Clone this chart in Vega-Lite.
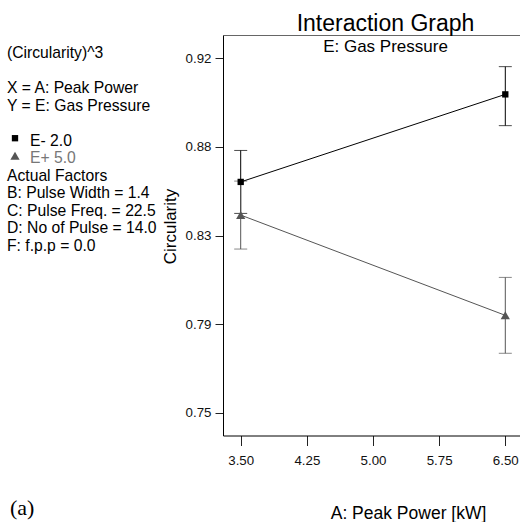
{
  "$schema": "https://vega.github.io/schema/vega-lite/v6.json",
  "autosize": {"type": "none"},
  "padding": {"left": 0, "top": 35, "right": 520, "bottom": 487},
  "bounds": "flush",
  "spacing": 193,
  "config": {
    "font": "Liberation Sans",
    "view": {"stroke": null},
    "axis": {"grid": false, "domainColor": "#000", "tickColor": "#222", "labelColor": "#111", "titleColor": "#000", "titleFontWeight": "normal"}
  },
  "hconcat": [
    {
      "width": 30,
      "height": 400.5,
      "title": {"text": "(a)", "orient": "bottom", "anchor": "start", "font": "Liberation Serif", "fontSize": 22, "fontWeight": "normal", "color": "#000", "offset": 62, "dx": 10},
      "data": {
        "values": [
          {"line": 0, "kind": "note", "text": "(Circularity)^3"},
          {"line": 2, "kind": "note", "text": "X = A: Peak Power"},
          {"line": 3, "kind": "note", "text": "Y = E: Gas Pressure"},
          {"line": 5, "kind": "series", "text": "E- 2.0"},
          {"line": 6, "kind": "series", "text": "E+ 5.0"},
          {"line": 7, "kind": "note", "text": "Actual Factors"},
          {"line": 8, "kind": "note", "text": "B: Pulse Width = 1.4"},
          {"line": 9, "kind": "note", "text": "C: Pulse Freq. = 22.5"},
          {"line": 10, "kind": "note", "text": "D: No of Pulse = 14.0"},
          {"line": 11, "kind": "note", "text": "F: f.p.p = 0.0"}
        ]
      },
      "encoding": {
        "y": {"field": "line", "type": "quantitative", "scale": {"domain": [-1.326, 21.56], "reverse": true, "nice": false, "zero": false}, "axis": null}
      },
      "layer": [
        {
          "transform": [{"filter": "datum.kind == 'note'"}],
          "mark": {"type": "text", "align": "left", "baseline": "alphabetic", "dx": -8, "fontSize": 15.7, "color": "#000"},
          "encoding": {"text": {"field": "text"}}
        },
        {
          "transform": [{"filter": "datum.kind == 'series'"}],
          "mark": {"type": "text", "align": "left", "baseline": "alphabetic", "dx": 15, "fontSize": 15.7},
          "encoding": {
            "text": {"field": "text"},
            "color": {"condition": {"test": "datum.text == 'E+ 5.0'", "value": "#777777"}, "value": "#000000"}
          }
        },
        {
          "transform": [{"filter": "datum.kind == 'series'"}],
          "mark": {"type": "point", "filled": true, "opacity": 1, "yOffset": -7.5},
          "encoding": {
            "shape": {"field": "text", "type": "nominal", "scale": {"domain": ["E- 2.0", "E+ 5.0"], "range": ["square", "triangle-up"]}, "legend": null},
            "color": {"field": "text", "type": "nominal", "scale": {"domain": ["E- 2.0", "E+ 5.0"], "range": ["#000000", "#555555"]}, "legend": null},
            "size": {"condition": {"test": "datum.text == 'E+ 5.0'", "value": 85}, "value": 40}
          }
        }
      ]
    },
    {
      "width": 297,
      "height": 400.5,
      "title": {"text": "Interaction Graph", "subtitle": "E: Gas Pressure", "fontSize": 23, "subtitleFontSize": 17, "fontWeight": "normal", "color": "#000", "subtitleColor": "#000", "anchor": "middle", "dx": 14, "offset": -20, "subtitlePadding": 3},
      "data": {
        "values": [
          {"power": 3.5, "series": "E- 2.0", "c": 0.8607, "lo": 0.8456, "hi": 0.8758},
          {"power": 6.5, "series": "E- 2.0", "c": 0.9027, "lo": 0.8877, "hi": 0.9160},
          {"power": 3.5, "series": "E+ 5.0", "c": 0.8448, "lo": 0.8285, "hi": 0.8611},
          {"power": 6.5, "series": "E+ 5.0", "c": 0.7967, "lo": 0.7785, "hi": 0.8149}
        ]
      },
      "resolve": {"axis": {"x": "independent"}},
      "layer": [
        {
          "mark": {"type": "rule", "strokeWidth": 1},
          "encoding": {
            "x": {"field": "power", "type": "quantitative", "scale": {"domain": [3.2993, 6.6667], "nice": false, "zero": false},
              "axis": {"orient": "bottom", "values": [3.5, 4.25, 5, 5.75, 6.5], "format": ".2f", "tickSize": 10, "labelPadding": 8, "labelFontSize": 13.3, "title": "A: Peak Power [kW]", "titleFontSize": 17.5, "titleX": 185, "titleY": 83, "titleBaseline": "alphabetic"}},
            "y": {"field": "lo", "type": "quantitative", "scale": {"domain": [0.73906, 0.93118], "nice": false, "zero": false},
              "axis": {"values": [0.75, 0.7925, 0.835, 0.8775, 0.92], "format": ".2f", "tickSize": 8, "labelPadding": 4, "labelFontSize": 13.3, "title": "Circularity", "titleFontSize": 17, "titleX": -48, "titleY": 191, "titleBaseline": "alphabetic", "titleAngle": 270}},
            "y2": {"field": "hi"},
            "color": {"field": "series", "type": "nominal", "scale": {"domain": ["E- 2.0", "E+ 5.0"], "range": ["#000000", "#555555"]}, "legend": null}
          }
        },
        {
          "transform": [{"fold": ["lo", "hi"], "as": ["end", "bound"]}],
          "mark": {"type": "tick", "orient": "horizontal", "size": 13, "thickness": 1},
          "encoding": {
            "x": {"field": "power", "type": "quantitative", "axis": null},
            "y": {"field": "bound", "type": "quantitative", "title": "Circularity"},
            "color": {"field": "series", "type": "nominal", "legend": null}
          }
        },
        {
          "mark": {"type": "line", "strokeWidth": 1},
          "encoding": {
            "x": {"field": "power", "type": "quantitative", "axis": {"orient": "top", "labels": false, "ticks": false, "title": null, "domain": true, "domainColor": "#666"}},
            "y": {"field": "c", "type": "quantitative", "title": "Circularity"},
            "color": {"field": "series", "type": "nominal", "legend": null}
          }
        },
        {
          "mark": {"type": "point", "filled": true, "opacity": 1},
          "encoding": {
            "x": {"field": "power", "type": "quantitative", "axis": null},
            "y": {"field": "c", "type": "quantitative", "title": "Circularity"},
            "shape": {"field": "series", "type": "nominal", "scale": {"domain": ["E- 2.0", "E+ 5.0"], "range": ["square", "triangle-up"]}, "legend": null},
            "color": {"field": "series", "type": "nominal", "legend": null},
            "size": {"condition": {"test": "datum.series == 'E+ 5.0'", "value": 85}, "value": 40}
          }
        }
      ]
    }
  ]
}
